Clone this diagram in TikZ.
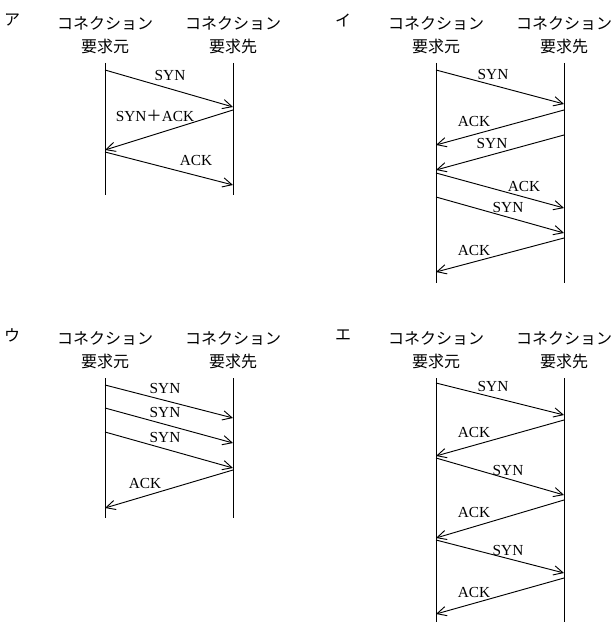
\documentclass[tikz,border=0pt]{standalone}
\usepackage{fontspec}
\setmainfont{Liberation Serif}
\newfontfamily\jp{Noto Sans CJK JP}
\usetikzlibrary{arrows.meta}
\begin{document}
\begin{tikzpicture}[x=0.75pt,y=-0.75pt,
  hdr/.style={font=\jp\fontsize{12}{14}\selectfont,inner sep=0pt},
  kana/.style={font=\jp\fontsize{12}{14}\selectfont,inner sep=0pt},
  lbl/.style={font=\fontsize{11.5}{13}\selectfont,inner sep=0pt},
  life/.style={line width=0.7pt},
  msg/.style={line width=0.7pt,-{Straight Barb[length=7pt,width=7pt]}}]
\useasboundingbox (0,0) rectangle (615,635);
\newcommand{\panel}[6]{%
  \node[kana] (#1m) at ({#3-93},{#5-43}) {#2};
  \node[hdr] (#1h1) at (#3,{#5-40}) {コネクション};
  \node[hdr] (#1h2) at (#3,{#5-17}) {要求元};
  \node[hdr] (#1h3) at (#4,{#5-40}) {コネクション};
  \node[hdr] (#1h4) at (#4,{#5-17}) {要求先};
  \coordinate (#1lt) at (#3,#5); \coordinate (#1lb) at (#3,#6);
  \coordinate (#1rt) at (#4,#5); \coordinate (#1rb) at (#4,#6);
  \draw[life] (#1lt) -- (#1lb);
  \draw[life] (#1rt) -- (#1rb);}
\newcommand{\msgLR}[5]{%
  \coordinate (#1a) at #2; \coordinate (#1b) at #3;
  \draw[msg] (#1a) -- (#1b);
  \node[lbl] (#1t) at #4 {#5};}
\panel{A}{ア}{105}{233}{63}{195}
\msgLR{A1}{(105,70)}{(233,107)}{(170,75)}{SYN}
\msgLR{A2}{(233,110)}{(105,150)}{(155,116)}{SYN{\jp ＋}ACK}
\msgLR{A3}{(105,152)}{(233,185)}{(196,160)}{ACK}
\panel{B}{イ}{436}{564}{63}{283}
\msgLR{B1}{(436,70)}{(564,104)}{(493,74)}{SYN}
\msgLR{B2}{(564,110)}{(436,145)}{(474,121)}{ACK}
\msgLR{B3}{(564,135)}{(436,170)}{(492,143)}{SYN}
\msgLR{B4}{(436,173)}{(564,208)}{(524,186)}{ACK}
\msgLR{B5}{(436,197)}{(564,233)}{(508,207)}{SYN}
\msgLR{B6}{(564,238)}{(436,272)}{(474,250)}{ACK}
\panel{C}{ウ}{105}{233}{378}{518}
\msgLR{C1}{(105,385)}{(233,418)}{(165,388)}{SYN}
\msgLR{C2}{(105,408)}{(233,443)}{(165,412)}{SYN}
\msgLR{C3}{(105,432)}{(233,468)}{(165,437)}{SYN}
\msgLR{C4}{(233,470)}{(105,508)}{(145,483)}{ACK}
\panel{D}{エ}{436}{564}{378}{622}
\msgLR{D1}{(436,383)}{(564,415)}{(493,386)}{SYN}
\msgLR{D2}{(564,420)}{(436,456)}{(474,432)}{ACK}
\msgLR{D3}{(436,458)}{(564,495)}{(508,470)}{SYN}
\msgLR{D4}{(564,500)}{(436,538)}{(474,512)}{ACK}
\msgLR{D5}{(436,540)}{(564,573)}{(508,550)}{SYN}
\msgLR{D6}{(564,578)}{(436,614)}{(474,592)}{ACK}
\end{tikzpicture}
\end{document}
